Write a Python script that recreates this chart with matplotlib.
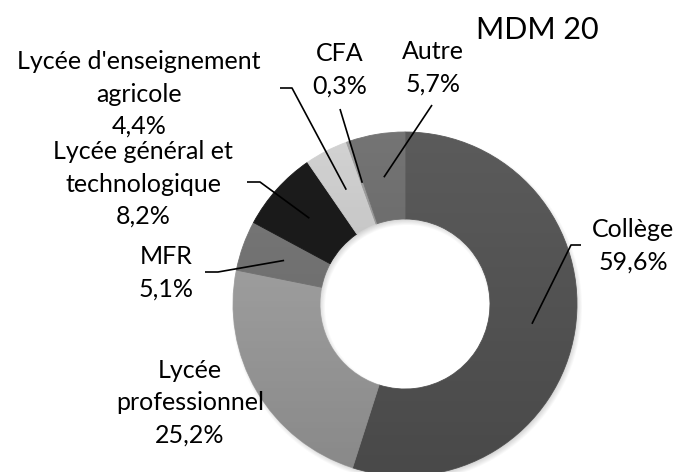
import numpy as np
import matplotlib
matplotlib.use("Agg")
import matplotlib.pyplot as plt
from matplotlib.patches import Wedge

# ---- data ----
categories = ["Collège", "Lycée professionnel", "MFR",
              "Lycée général et technologique",
              "Lycée d'enseignement agricole", "CFA", "Autre"]
display_names = ["Collège", "Lycée\nprofessionnel", "MFR",
                 "Lycée général et\ntechnologique",
                 "Lycée d'enseignement\nagricole", "CFA", "Autre"]
values = [59.6, 25.2, 5.1, 8.2, 4.4, 0.3, 5.7]
colors = ["#5b5b5b", "#aaaaaa", "#7b7b7b", "#1c1c1c", "#d3d3d3", "#a0a0a0", "#747474"]
title = "MDM 20"

# ---- layout (pixel space, origin top-left) ----
W, H = 681, 472
CX, CY = 405, 304
R, RW = 172, 87
label_pos = [(633, 246), (190, 403), (166, 273), (143, 184),
             (139, 94), (340, 70), (433, 68)]
# leader line points from text side (None = no leader)
leader_pts = [[(581, 245), (571, 245)], None, [(205, 272), (218, 272)],
              [(247, 182), (260, 182)], [(280, 88), (292, 88)],
              [(340, 109)], [(432, 105)]]

FONT = "Lato"
plt.rcParams["font.family"] = [FONT, "DejaVu Sans"]

fig = plt.figure(figsize=(W / 100, H / 100), dpi=100)
ax = fig.add_axes([0, 0, 1, 1])

def py(y):
    return H - y

center = (CX, py(CY))

# soft drop shadow
for k in range(7):
    sh = Wedge((CX + 2.0, py(CY) - 3.0), R + 3 - k * 0.9, 0, 360,
               width=RW + 6 - k * 1.8, facecolor="black", alpha=0.025,
               linewidth=0, zorder=1)
    ax.add_patch(sh)

wedges, _ = ax.pie(values, colors=colors, startangle=90, counterclock=False,
                   radius=R, center=center,
                   wedgeprops=dict(width=RW, linewidth=0.6, edgecolor=None))
for w, c in zip(wedges, colors):
    w.set_edgecolor(c)
    w.set_zorder(2)

# vertical shading gradient over the ring
grad = np.zeros((256, 1, 4))
grad[:, 0, 3] = np.linspace(0.0, 0.2, 256)
im = ax.imshow(grad, extent=(CX - R, CX + R, py(CY) - R, py(CY) + R),
               origin="upper", aspect="auto", zorder=3, interpolation="bilinear")
clip = Wedge(center, R, 0, 360, width=RW, transform=ax.transData)
im.set_clip_path(clip)

# leader lines ending at the middle of each wedge
rmid = R - RW / 2
for w, pts in zip(wedges, leader_pts):
    if pts is None:
        continue
    ang = np.deg2rad((w.theta1 + w.theta2) / 2)
    end = (CX + rmid * np.cos(ang), py(CY) + rmid * np.sin(ang))
    xs = [p[0] for p in pts] + [end[0]]
    ys = [py(p[1]) for p in pts] + [end[1]]
    ax.plot(xs, ys, color="black", linewidth=1.2, zorder=4,
            solid_capstyle="butt")

# labels
for name, v, (lx, ly) in zip(display_names, values, label_pos):
    txt = name + "\n" + f"{v:.1f}".replace(".", ",") + "%"
    ax.text(lx, py(ly), txt, ha="center", va="center", fontsize=18,
            linespacing=1.48, color="black", zorder=5)

ax.text(537, py(30), title, ha="center", va="center", fontsize=22,
        color="black", zorder=5)

ax.set_xlim(0, W)
ax.set_ylim(0, H)
ax.set_aspect("equal")
ax.axis("off")
fig.savefig("out.png", dpi=100)
